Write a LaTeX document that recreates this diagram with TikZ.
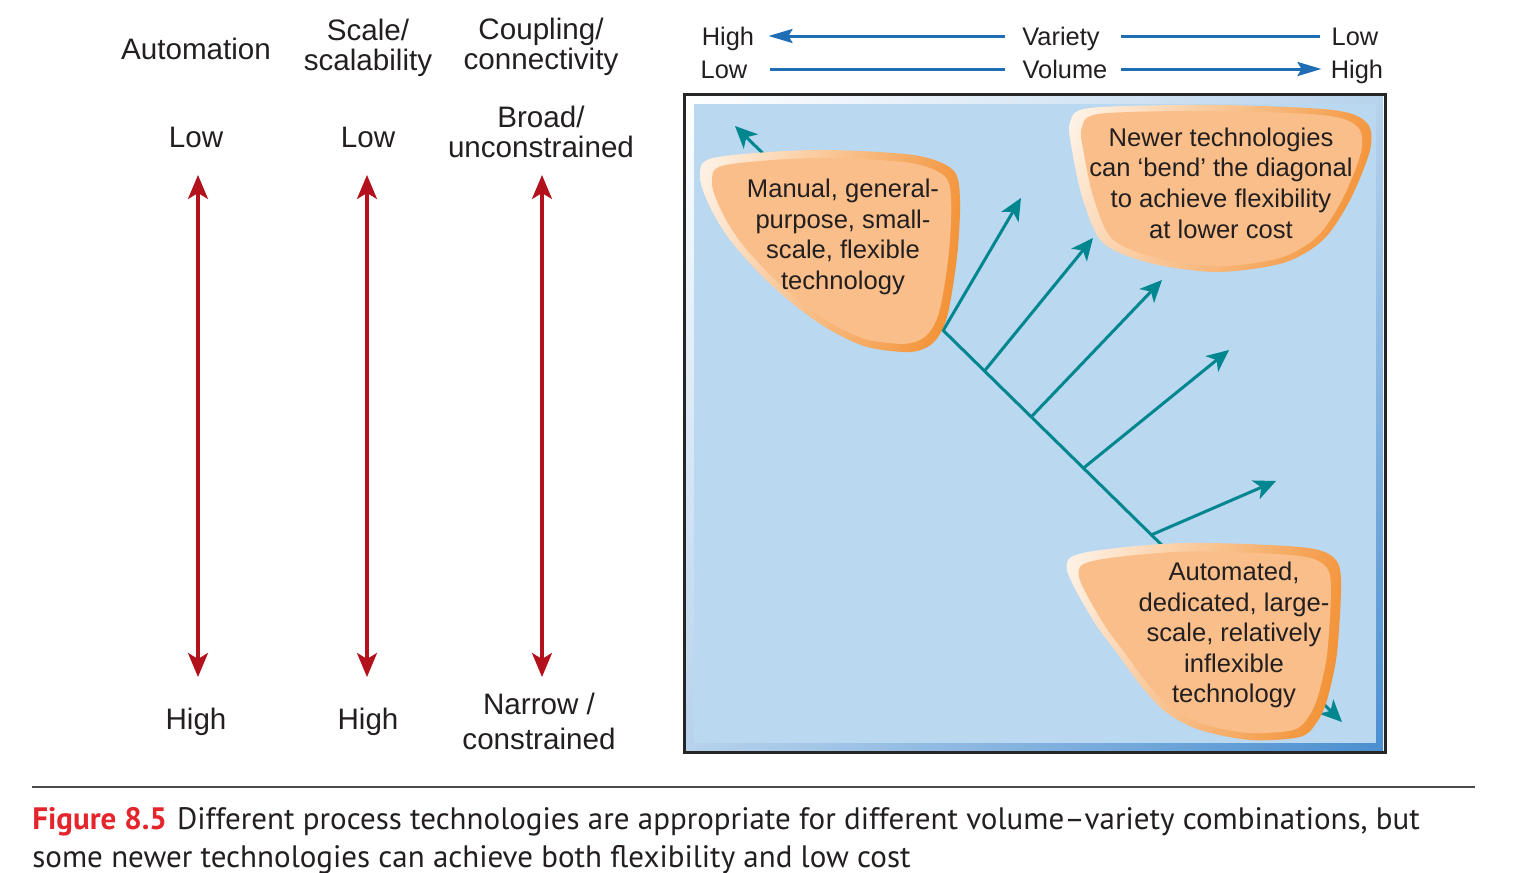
\documentclass[tikz,border=0pt]{standalone}
\usepackage{fontspec}
\setmainfont{Liberation Sans}
\newfontfamily\figcapfont{PT Sans}
\usepackage{tikz}
\usetikzlibrary{arrows.meta}
\usetikzlibrary{shadings}
\usepackage{xcolor}

\definecolor{labelgray}{HTML}{231F20}
\definecolor{axisred}{HTML}{B3121C}
\definecolor{scaleblue}{HTML}{1F6EB5}
\definecolor{diagteal}{HTML}{00868F}
\definecolor{panelblue}{HTML}{BAD8F0}
\definecolor{rimblue}{HTML}{4B8FD0}
\definecolor{blobfill}{HTML}{F9BE89}
\definecolor{blobdark}{HTML}{F28C2B}
\definecolor{bloblight}{HTML}{FFF6EC}
\definecolor{figred}{HTML}{E4252C}

\tikzset{
	lbl/.style={inner sep=0pt, text=labelgray, font=\fontsize{14.8}{15}\selectfont, text height=10.6pt, text depth=0pt},
	hdr/.style={inner sep=0pt, text=labelgray, align=center, font=\fontsize{14.8}{15}\selectfont},
	toplbl/.style={inner sep=0pt, text=labelgray, font=\fontsize{12.7}{15}\selectfont, text height=9.1pt, text depth=0pt},
	blobtext/.style={inner sep=0pt, text=labelgray, align=center, font=\fontsize{12.8}{15.3}\selectfont},
	redarrow/.style={axisred, line width=1.6pt, {Stealth[length=12pt,width=10pt,inset=3pt]}-{Stealth[length=12pt,width=10pt,inset=3pt]}},
	bluearrow/.style={scaleblue, line width=1.5pt, -{Stealth[length=12pt,width=7pt,inset=2pt]}},
	blueline/.style={scaleblue, line width=1.5pt},
	tealarrow/.style={diagteal, line width=1.5pt, -{Stealth[length=11pt,width=10pt,inset=3pt]}},
	blobrim/.style={upper left=bloblight, upper right=blobdark!75!blobfill, lower left=blobfill!55!white, lower right=blobdark},
}

\newcommand{\manualblob}{plot[smooth cycle] coordinates {(700,177) (713,158) (813,150) (913,155) (953,170) (960,200) (957,257) (947,317) (933,343) (910,352) (867,347) (830,330) (797,307) (763,277) (730,240) (710,207)}}
\newcommand{\newerblob}{plot[smooth cycle] coordinates {(1070,123) (1090,108) (1217,105) (1333,110) (1367,123) (1370,150) (1350,200) (1323,240) (1283,263) (1217,272) (1150,263) (1103,243) (1083,200) (1072,150)}}
\newcommand{\autoblob}{plot[smooth cycle] coordinates {(1067,570) (1083,553) (1183,543) (1300,547) (1333,557) (1341,580) (1337,653) (1327,700) (1317,722) (1300,737) (1250,740) (1200,730) (1167,713) (1142,687) (1117,653) (1093,620)}}

\begin{document}
\begin{tikzpicture}[x=0.5pt, y=-0.5pt] % volume-variety technology chart
	\useasboundingbox (0,0) rectangle (1527,873);
	
	%left hand scales
	\node[lbl] (auto) at (196,49) {Automation};
	\node[hdr] (scale) at (368,48) {Scale/\\scalability};
	\node[hdr] (coupling) at (541,47) {Coupling/\\connectivity};
	
	\node[lbl] (lowA) at (196,137) {Low};
	\node[lbl] (lowB) at (368,137) {Low};
	\node[hdr] (broad) at (541,132) {Broad/\\unconstrained};
	
	\node[lbl] (highA) at (196,719) {High};
	\node[lbl] (highB) at (368,719) {High};
	\node[hdr] (narrow) at (539,721) {Narrow /\\[2.5pt]constrained};
	
	\coordinate (autoTop) at (198,175);
	\coordinate (autoBot) at (198,677);
	\coordinate (scaleTop) at (367,175);
	\coordinate (scaleBot) at (367,677);
	\coordinate (coupTop) at (542,175);
	\coordinate (coupBot) at (542,677);
	\draw[redarrow] (autoTop) -- (autoBot);
	\draw[redarrow] (scaleTop) -- (scaleBot);
	\draw[redarrow] (coupTop) -- (coupBot);
	
	%volume and variety
	\node[toplbl] (varHigh) at (728,36) {High};
	\node[toplbl] (variety) at (1061,36) {Variety};
	\node[toplbl] (varLow) at (1355,36) {Low};
	\node[toplbl] (volLow) at (724,69) {Low};
	\node[toplbl] (volume) at (1065,69) {Volume};
	\node[toplbl] (volHigh) at (1357,69) {High};
	
	\draw[bluearrow, shorten <=8.3pt, shorten >=7pt] (variety.west) -- (varHigh.east);
	\draw[blueline, shorten <=10.3pt, shorten >=5.9pt] (variety.east) -- (varLow.west);
	\draw[blueline, shorten <=11.3pt, shorten >=8.5pt] (volLow.east) -- (volume.west);
	\draw[bluearrow, shorten <=6.5pt, shorten >=4.5pt] (volume.east) -- (volHigh.west);
	
	%panel
	\shade[upper left=white, upper right=rimblue!40, lower left=rimblue!40, lower right=rimblue] (686,96) rectangle (1383,750);
	\fill[panelblue] (694,104) rectangle (1376,743);
	\draw[line width=1.5pt, black!85] (684,94) rectangle (1385,752);
	
	%diagonal and its branches
	\coordinate (diagA) at (735,126);
	\coordinate (diagB) at (1342,722);
	\draw[tealarrow, {Stealth[length=11pt,width=10pt,inset=3pt]}-{Stealth[length=11pt,width=10pt,inset=3pt]}] (diagA) -- (diagB);
	\path (diagA) -- (diagB) coordinate[pos=0.343] (b1) coordinate[pos=0.411] (b2)
		coordinate[pos=0.488] (b3) coordinate[pos=0.574] (b4) coordinate[pos=0.686] (b5);
	\coordinate (t1) at (1021,198);
	\coordinate (t2) at (1093,238);
	\coordinate (t3) at (1162,280);
	\coordinate (t4) at (1229,350);
	\coordinate (t5) at (1276,481);
	\foreach \i in {1,...,5}
		\draw[tealarrow] (b\i) -- (t\i);
	
	%blobs
	\shade[blobrim] \manualblob;
	\begin{scope}[shift={(850,250)}, scale=0.92, shift={(-850,-250)}]
		\fill[blobfill] \manualblob;
	\end{scope}
	\shade[blobrim] \newerblob;
	\begin{scope}[shift={(1240,190)}, scale=0.93, shift={(-1240,-190)}]
		\fill[blobfill] \newerblob;
	\end{scope}
	\shade[blobrim] \autoblob;
	\begin{scope}[shift={(1215,650)}, scale=0.92, shift={(-1215,-650)}]
		\fill[blobfill] \autoblob;
	\end{scope}
	
	\node[blobtext] (manual) at (843,237) {Manual, general-\\purpose, small-\\scale, flexible\\technology};
	\node[blobtext] (newer) at (1221,183) {Newer technologies\\can `bend' the diagonal\\to achieve flexibility\\at lower cost};
	\node[blobtext] (automated) at (1234,635) {Automated,\\dedicated, large-\\scale, relatively\\inflexible\\technology};
	
	%caption
	\draw[black!70, line width=0.6pt] (32,787) -- (1475,787);
	\node[anchor=north west, inner sep=0pt, align=left, text=labelgray, font=\figcapfont\fontsize{15.5}{19}\selectfont] (caption) at (32,807)
		{{\color{figred}\bfseries Figure 8.5}\hspace{5pt}Different process technologies are appropriate for different volume–variety combinations, but\\some newer technologies can achieve both flexibility and low cost};
	
\end{tikzpicture}
\end{document}
